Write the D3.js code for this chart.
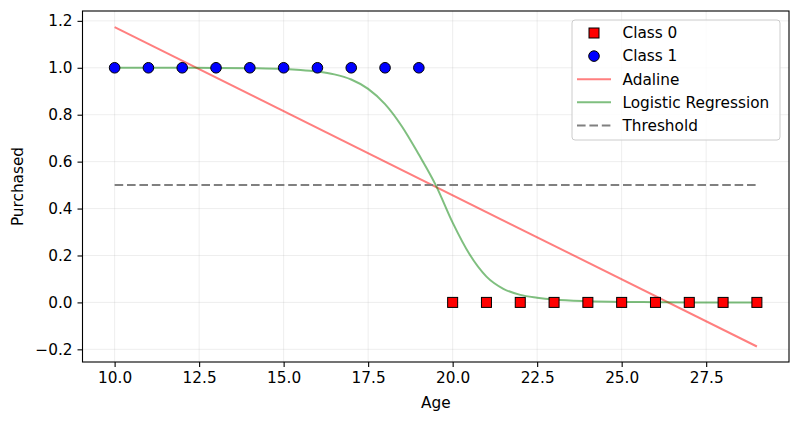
<!DOCTYPE html>
<html>
<head>
<meta charset="utf-8">
<script src="https://cdn.jsdelivr.net/npm/d3@7"></script>
<style>
  body { margin: 0; background: #fff; }
  svg { font-family: "DejaVu Sans", sans-serif; }
</style>
</head>
<body>
<svg id="chart" width="800" height="422"></svg>
<script>
// ---- data ----
const class0Ages = [20, 21, 22, 23, 24, 25, 26, 27, 28, 29];
const class0Values = [0, 0, 0, 0, 0, 0, 0, 0, 0, 0];
const class1Ages = [10, 11, 12, 13, 14, 15, 16, 17, 18, 19];
const class1Values = [1, 1, 1, 1, 1, 1, 1, 1, 1, 1];
const adalineX = [10, 29];
const adalineY = [1.173, -0.188];
const logisticX = [10, 11, 12, 13, 14, 15, 15.5, 16, 16.5, 17, 17.5, 18, 18.5, 19, 19.5, 20, 20.5, 21, 21.5, 22, 22.5, 23, 24, 25, 26, 27, 28, 29];
const logisticY = [1.0, 1.0, 0.9998, 0.9995, 0.998, 0.995, 0.991, 0.984, 0.972, 0.95, 0.91, 0.845, 0.75, 0.63, 0.5, 0.34, 0.205, 0.11, 0.058, 0.032, 0.02, 0.012, 0.005, 0.002, 0.001, 0.0, 0.0, 0.0];
const thresholdX = [10, 29];
const thresholdY = [0.5, 0.5];
const xTicks = [10, 12.5, 15, 17.5, 20, 22.5, 25, 27.5];
const yTicks = [-0.2, 0, 0.2, 0.4, 0.6, 0.8, 1.0, 1.2];
const legendLabels = ["Class 0", "Class 1", "Adaline", "Logistic Regression", "Threshold"];

// ---- layout ----
const svg = d3.select("#chart");
const L = 82.5, R = 789, T = 11, B = 362;
const x = d3.scaleLinear().domain([9.05, 29.95]).range([L, R]);
const y = d3.scaleLinear().domain([-0.254, 1.242]).range([B, T]);
const FS = 15.3;
const DASH = "8.6,3.8";

// grid
const grid = svg.append("g");
grid.selectAll("line.gx").data(xTicks).enter().append("line")
  .attr("x1", d => x(d)).attr("x2", d => x(d)).attr("y1", T).attr("y2", B)
  .attr("stroke", "#b0b0b0").attr("stroke-opacity", 0.22).attr("stroke-width", 1);
grid.selectAll("line.gy").data(yTicks).enter().append("line")
  .attr("y1", d => y(d)).attr("y2", d => y(d)).attr("x1", L).attr("x2", R)
  .attr("stroke", "#b0b0b0").attr("stroke-opacity", 0.22).attr("stroke-width", 1);

// lines
const line = d3.line().x(d => x(d[0])).y(d => y(d[1]));
svg.append("path").datum(adalineX.map((v, i) => [v, adalineY[i]]))
  .attr("d", line).attr("fill", "none").attr("stroke", "#ff0000").attr("stroke-opacity", 0.5).attr("stroke-width", 2);
svg.append("path").datum(logisticX.map((v, i) => [v, logisticY[i]]))
  .attr("d", d3.line().x(d => x(d[0])).y(d => y(d[1])).curve(d3.curveMonotoneX)).attr("fill", "none").attr("stroke", "#008000").attr("stroke-opacity", 0.5).attr("stroke-width", 2);
svg.append("path").datum(thresholdX.map((v, i) => [v, thresholdY[i]]))
  .attr("d", line).attr("fill", "none").attr("stroke", "#808080").attr("stroke-width", 2)
  .attr("stroke-dasharray", DASH);

// points
svg.append("g").selectAll("rect").data(class0Ages.map((v, i) => [v, class0Values[i]])).enter().append("rect")
  .attr("x", d => x(d[0]) - 5).attr("y", d => y(d[1]) - 5).attr("width", 10).attr("height", 10)
  .attr("fill", "#ff0000").attr("stroke", "#000").attr("stroke-width", 1);
svg.append("g").selectAll("circle").data(class1Ages.map((v, i) => [v, class1Values[i]])).enter().append("circle")
  .attr("cx", d => x(d[0])).attr("cy", d => y(d[1])).attr("r", 5.3)
  .attr("fill", "#0000ff").attr("stroke", "#000").attr("stroke-width", 1);

// axes frame
svg.append("rect").attr("x", L).attr("y", T).attr("width", R - L).attr("height", B - T)
  .attr("fill", "none").attr("stroke", "#000").attr("stroke-width", 1.1);

// x axis
const xAxis = d3.axisBottom(x).tickValues(xTicks).tickFormat(d3.format(".1f")).tickSize(5).tickPadding(5);
const gx = svg.append("g").attr("transform", `translate(0,${B})`).call(xAxis);
gx.select(".domain").remove();
gx.selectAll("text").attr("font-size", FS).attr("font-family", "DejaVu Sans").attr("fill", "#000");
gx.selectAll("line").attr("stroke", "#000").attr("stroke-width", 1.1);

// y axis
const yAxis = d3.axisLeft(y).tickValues(yTicks).tickFormat(d => d3.format(".1f")(d).replace("-", "\u2212")).tickSize(5).tickPadding(5);
const gy = svg.append("g").attr("transform", `translate(${L},0)`).call(yAxis);
gy.select(".domain").remove();
gy.selectAll("text").attr("font-size", FS).attr("font-family", "DejaVu Sans").attr("fill", "#000");
gy.selectAll("line").attr("stroke", "#000").attr("stroke-width", 1.1);

// labels
svg.append("text").attr("x", (L + R) / 2).attr("y", 408).attr("text-anchor", "middle")
  .attr("font-size", FS).text("Age");
svg.append("text").attr("transform", `translate(23,${(T + B) / 2}) rotate(-90)`).attr("text-anchor", "middle")
  .attr("font-size", FS).text("Purchased");

// legend
const lg = svg.append("g");
lg.append("rect").attr("x", 572).attr("y", 20).attr("width", 208).attr("height", 120).attr("rx", 3)
  .attr("fill", "#fff").attr("fill-opacity", 0.8).attr("stroke", "#cccccc").attr("stroke-width", 1);
const rowY = i => 33 + i * 23.1;
const hx1 = 577, hx2 = 611, hxm = 594, tx = 622.5;
legendLabels.forEach((lab, i) => {
  lg.append("text").attr("x", tx).attr("y", rowY(i)).attr("dy", "0.35em").attr("font-size", FS).text(lab);
});
lg.append("rect").attr("x", hxm - 5).attr("y", rowY(0) - 5).attr("width", 10).attr("height", 10)
  .attr("fill", "#ff0000").attr("stroke", "#000").attr("stroke-width", 1);
lg.append("circle").attr("cx", hxm).attr("cy", rowY(1)).attr("r", 5.3)
  .attr("fill", "#0000ff").attr("stroke", "#000").attr("stroke-width", 1);
lg.append("line").attr("x1", hx1).attr("x2", hx2).attr("y1", rowY(2)).attr("y2", rowY(2))
  .attr("stroke", "#ff0000").attr("stroke-opacity", 0.5).attr("stroke-width", 2);
lg.append("line").attr("x1", hx1).attr("x2", hx2).attr("y1", rowY(3)).attr("y2", rowY(3))
  .attr("stroke", "#008000").attr("stroke-opacity", 0.5).attr("stroke-width", 2);
lg.append("line").attr("x1", hx1).attr("x2", hx2).attr("y1", rowY(4)).attr("y2", rowY(4))
  .attr("stroke", "#808080").attr("stroke-width", 2).attr("stroke-dasharray", DASH);
</script>
</body>
</html>
